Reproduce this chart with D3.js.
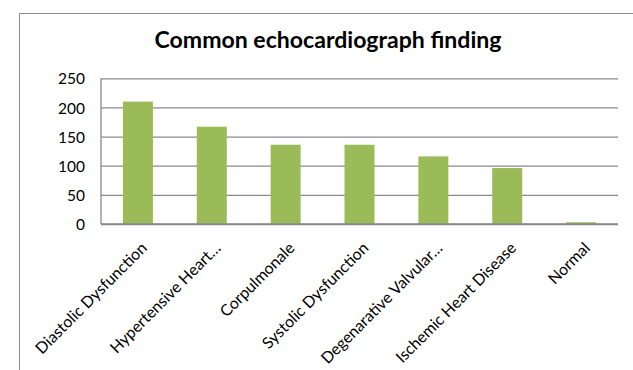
<!DOCTYPE html>
<html>
<head>
<meta charset="utf-8">
<script src="https://cdn.jsdelivr.net/npm/d3@7"></script>
<style>
  html, body { margin: 0; padding: 0; background: #fff; }
  svg { display: block; font-family: Lato, "Open Sans", sans-serif; }
</style>
</head>
<body>
<svg id="chart" width="633" height="370"></svg>
<script>
// Echocardiograph findings (number of patients)
const categories = [
  "Diastolic Dysfunction",
  "Hypertensive Heart…",
  "Corpulmonale",
  "Systolic Dysfunction",
  "Degenarative Valvular…",
  "Ischemic Heart Disease",
  "Normal"
];
const counts = [210, 167, 136, 136, 116, 96, 3];
const yTicks = [0, 50, 100, 150, 200, 250];
const titleText = "Common echocardiograph finding";

const svg = d3.select("#chart");

// plot area
const plot = { left: 101, right: 618, top: 78.3, bottom: 224 };

const x = d3.scaleBand()
  .domain(categories)
  .range([plot.left, plot.right])
  .paddingInner(0.594)
  .paddingOuter(0.297);

const y = d3.scaleLinear()
  .domain([0, 250])
  .range([plot.bottom, plot.top]);

// outer chart frame
svg.append("rect")
  .attr("x", 19.5).attr("y", 13.5)
  .attr("width", 700).attr("height", 400)
  .attr("fill", "none")
  .attr("stroke", "#8c8c8c")
  .attr("stroke-width", 1);

// title, sized to its span
const title = svg.append("text")
  .attr("x", 328).attr("y", 47.7)
  .attr("text-anchor", "middle")
  .attr("font-weight", "bold")
  .attr("font-size", 20)
  .attr("fill", "#000")
  .text(titleText);
{
  const w = title.node().getComputedTextLength();
  title.attr("font-size", 20 * 347 / w);
}

// gridlines
const yAxis = d3.axisLeft(y).tickValues(yTicks).tickSize(-(plot.right - plot.left)).tickPadding(16);
const gy = svg.append("g")
  .attr("transform", `translate(${plot.left},0)`)
  .call(yAxis);
gy.select(".domain").remove();
gy.selectAll(".tick line")
  .attr("stroke", "#8a8a8a")
  .attr("stroke-width", 1.3);
gy.selectAll(".tick text")
  .attr("font-size", 15.5)
  .attr("fill", "#000")
  .attr("dy", "0.36em")
  .attr("font-family", "Lato, 'Open Sans', sans-serif");

// left edge of the plot area
svg.append("line")
  .attr("x1", plot.left).attr("x2", plot.left)
  .attr("y1", y(250)).attr("y2", y(0))
  .attr("stroke", "#8a8a8a")
  .attr("stroke-width", 1.3);

// bars
svg.append("g")
  .selectAll("rect")
  .data(categories.map((c, i) => ({ c, v: counts[i] })))
  .join("rect")
  .attr("x", d => x(d.c))
  .attr("y", d => y(d.v))
  .attr("width", x.bandwidth())
  .attr("height", d => y(0) - y(d.v))
  .attr("fill", "#9bbb59");

// baseline drawn over the bar bottoms
svg.append("line")
  .attr("x1", plot.left).attr("x2", plot.right)
  .attr("y1", y(0)).attr("y2", y(0))
  .attr("stroke", "#8a8a8a")
  .attr("stroke-width", 1.3);

// rotated category labels
const labels = svg.append("g")
  .selectAll("text")
  .data(categories)
  .join("text")
  .attr("text-anchor", "end")
  .attr("font-size", 16)
  .attr("fill", "#000")
  .attr("transform", d => `translate(${x(d) + x.bandwidth() / 2 + 10},249) rotate(-45)`)
  .text(d => d);
{
  const w = labels.filter((d, i) => i === 0).node().getComputedTextLength();
  labels.attr("font-size", 16 * 150 / w);
}
</script>
</body>
</html>
